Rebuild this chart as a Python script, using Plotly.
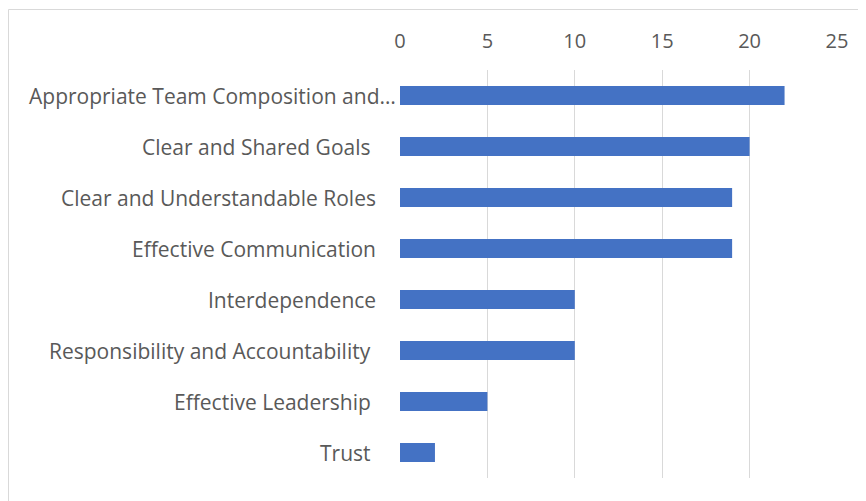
import plotly.graph_objects as go

categories = [
    "Appropriate Team Composition and\u2026",
    "Clear and Shared Goals\u00a0",
    "Clear and Understandable Roles",
    "Effective Communication",
    "Interdependence",
    "Responsibility and Accountability\u00a0",
    "Effective Leadership\u00a0",
    "Trust\u00a0",
]
values = [22, 20, 19, 19, 10, 10, 5, 2]
x_ticks = [0, 5, 10, 15, 20, 25]

# page body has an 8px margin, so figure coords = screen coords - 8
W, H = 866, 501
L, T = 392, 62
R = W - (837 - 8)
B = H - (478 - 8)
pw, ph = W - L - R, H - T - B

fig = go.Figure(go.Bar(
    y=categories, x=values, orientation="h",
    marker=dict(color="#4472C4", line=dict(width=0)),
    hoverinfo="x+y",
))

label_font = dict(family="Open Sans, Lato, sans-serif", size=21, color="#595959")
tick_font = dict(family="Open Sans, Lato, sans-serif", size=20, color="#595959")

annotations = []
for c in categories:
    shift = -2 if c.startswith("Appropriate") else -22
    annotations.append(dict(
        x=0, xref="paper", y=c, yref="y", text=c, showarrow=False,
        xanchor="right", yanchor="middle", xshift=shift, font=label_font,
    ))

fig.update_layout(
    width=W, height=H,
    margin=dict(l=L, r=R, t=T, b=B),
    paper_bgcolor="white", plot_bgcolor="white",
    bargap=0.63,
    showlegend=False,
    annotations=annotations,
    shapes=[dict(
        type="rect", xref="paper", yref="paper",
        x0=(0.5 - L) / pw, x1=(W + 20 - L) / pw,
        y0=(H - B - (H + 20)) / ph, y1=(H - B - 1.5) / ph,
        line=dict(color="#d9d9d9", width=1), fillcolor="rgba(0,0,0,0)", layer="below",
    )],
)
fig.update_xaxes(
    range=[0, 25], side="top", tickvals=x_ticks, ticktext=[str(v) for v in x_ticks],
    showgrid=True, gridcolor="#d9d9d9", gridwidth=1, zeroline=False,
    showline=False, ticks="", tickfont=tick_font, ticklabelstandoff=17,
)
fig.update_yaxes(
    categoryorder="array", categoryarray=categories[::-1],
    showticklabels=False, showgrid=False, zeroline=False, showline=False, ticks="",
)

fig.write_html("out.html")
